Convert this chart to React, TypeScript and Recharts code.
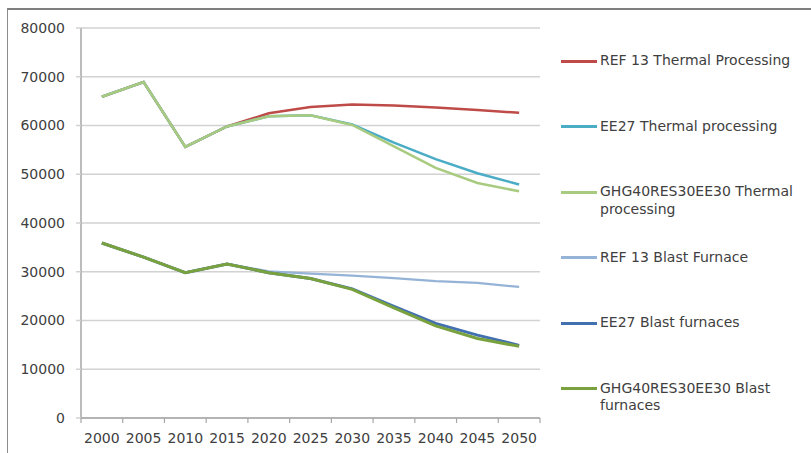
import React from 'react';
import { LineChart, Line, XAxis, YAxis, CartesianGrid, Legend } from 'recharts';

const years = [2000, 2005, 2010, 2015, 2020, 2025, 2030, 2035, 2040, 2045, 2050];
const bandEdges = [1997.5, 2002.5, 2007.5, 2012.5, 2017.5, 2022.5, 2027.5, 2032.5, 2037.5, 2042.5, 2047.5, 2052.5];
const yTicks = [0, 10000, 20000, 30000, 40000, 50000, 60000, 70000, 80000];

const refThermal = [65900, 68900, 55600, 59800, 62500, 63800, 64300, 64100, 63700, 63200, 62600];
const ee27Thermal = [65900, 68900, 55600, 59800, 61900, 62100, 60200, 56500, 53100, 50200, 47900];
const ghgThermal = [65900, 68900, 55600, 59800, 61900, 62100, 60100, 55700, 51300, 48200, 46500];
const refBlast = [35900, 33000, 29800, 31600, 30100, 29600, 29200, 28700, 28100, 27700, 26900];
const ee27Blast = [35900, 33000, 29800, 31600, 29800, 28600, 26500, 22900, 19400, 17000, 14900];
const ghgBlast = [35900, 33000, 29800, 31600, 29800, 28600, 26400, 22600, 18900, 16300, 14700];

const seriesNames = [
  'REF 13 Thermal Processing',
  'EE27 Thermal processing',
  'GHG40RES30EE30 Thermal processing',
  'REF 13 Blast Furnace',
  'EE27 Blast furnaces',
  'GHG40RES30EE30 Blast furnaces',
];
const seriesKeys = ['refThermal', 'ee27Thermal', 'ghgThermal', 'refBlast', 'ee27Blast', 'ghgBlast'];
const seriesColors = ['#BE4B48', '#4BACC6', '#A8CB80', '#95B3D7', '#4270B0', '#79A23F'];
const seriesWidths = [2.5, 2.5, 2.5, 2.25, 3, 3];

const data = years.map((year, i) => ({
  year,
  refThermal: refThermal[i],
  ee27Thermal: ee27Thermal[i],
  ghgThermal: ghgThermal[i],
  refBlast: refBlast[i],
  ee27Blast: ee27Blast[i],
  ghgBlast: ghgBlast[i],
}));

const xTicks = [...bandEdges, ...years].sort((a, b) => a - b);

const FONT = 'DejaVu Sans';
const TEXT = '#404040';
const X_TICK_SIZE = 5;
const X_TICK_MARGIN = 10;

const renderLegend = (props: any) => {
  const payload = [...(props.payload || [])].sort(
    (a: any, b: any) => seriesNames.indexOf(a.value) - seriesNames.indexOf(b.value)
  );
  return (
    <div style={{ fontFamily: FONT, fontSize: 14, color: TEXT }}>
      {payload.map((p: any, i: number) => (
        <div key={i} style={{ display: 'flex', alignItems: 'flex-start', height: 65.6 }}>
          <div style={{ width: 36, height: 3, background: p.color, marginTop: 7.5, flex: 'none' }} />
          <div style={{ marginLeft: 3, width: 205, lineHeight: '17.5px' }}>{p.value}</div>
        </div>
      ))}
    </div>
  );
};

const XTick = (props: any) => {
  const { x, y, payload } = props;
  const v = payload.value;
  if (years.includes(v)) {
    return (
      <text x={x} y={y} dy="0.71em" textAnchor="middle" fontFamily={FONT} fontSize={14} fill={TEXT}>
        {v}
      </text>
    );
  }
  return (
    <line
      x1={x}
      x2={x}
      y1={y - X_TICK_MARGIN - X_TICK_SIZE}
      y2={y - X_TICK_MARGIN}
      stroke="#A6A6A6"
      strokeWidth={1.2}
    />
  );
};

export default function App() {
  return (
    <div style={{ position: 'absolute', left: 0, top: 0, width: 811, height: 453, background: '#fff', overflow: 'hidden' }}>
      <div
        style={{
          position: 'absolute',
          left: 7,
          top: 8,
          width: 804,
          height: 445,
          borderTop: '2px solid #7f7f7f',
          borderLeft: '1.5px solid #8c8c8c',
          boxSizing: 'border-box',
        }}
      />
      <div style={{ position: 'absolute', left: 0, top: 0 }}>
        <LineChart width={811} height={453} data={data} margin={{ top: 28, right: 271, bottom: 5, left: 0 }}>
          <CartesianGrid vertical={false} stroke="#D2D2D2" strokeWidth={1.5} />
          <XAxis
            dataKey="year"
            type="number"
            domain={[1997.5, 2052.5]}
            allowDataOverflow
            ticks={xTicks}
            interval={0}
            tickLine={false}
            tickSize={X_TICK_SIZE}
            tickMargin={X_TICK_MARGIN}
            axisLine={{ stroke: '#A6A6A6', strokeWidth: 1.5 }}
            tick={XTick}
            height={30}
          />
          <YAxis
            domain={[0, 80000]}
            ticks={yTicks}
            interval={0}
            width={81}
            tickSize={5}
            tickMargin={11}
            tickLine={{ stroke: '#D2D2D2', strokeWidth: 1.5 }}
            axisLine={{ stroke: '#A6A6A6', strokeWidth: 1.5 }}
            tick={{ fontFamily: FONT, fontSize: 14, fill: TEXT }}
          />
          <Legend
            layout="vertical"
            align="center"
            verticalAlign="middle"
            wrapperStyle={{ left: 561, top: 52, width: 250 }}
            content={renderLegend}
          />
          {seriesKeys.map((k, i) => (
            <Line
              key={k}
              type="linear"
              dataKey={k}
              name={seriesNames[i]}
              stroke={seriesColors[i]}
              strokeWidth={seriesWidths[i]}
              dot={false}
              activeDot={false}
              isAnimationActive={false}
            />
          ))}
        </LineChart>
      </div>
    </div>
  );
}
